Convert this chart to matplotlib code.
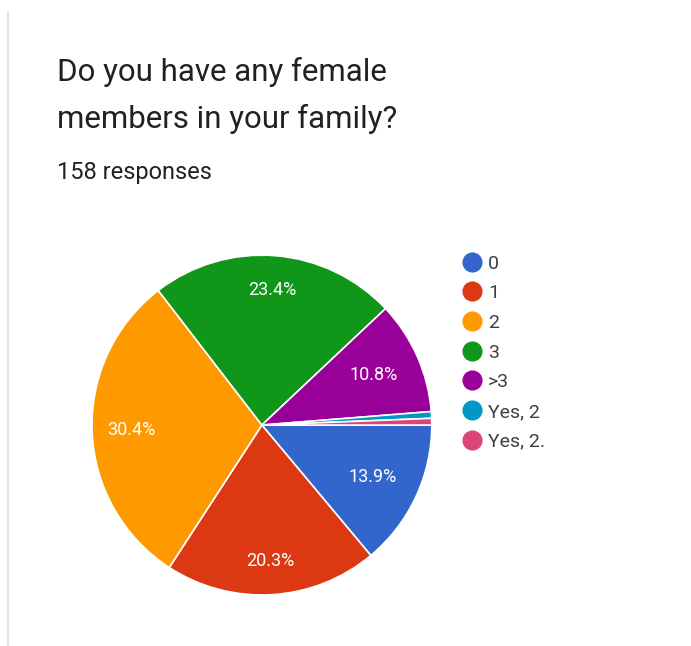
import numpy as np
import matplotlib.pyplot as plt
from matplotlib.lines import Line2D

plt.rcParams['font.family'] = ['Roboto', 'DejaVu Sans']

title = 'Do you have any female\nmembers in your family?'
subtitle = '158 responses'
answers = ['0', '1', '2', '3', '>3', 'Yes, 2', 'Yes, 2.']
counts = [22, 32, 48, 37, 17, 1, 1]
colors = ['#3366CC', '#DC3912', '#FF9900', '#109618', '#990099', '#0099C6', '#DD4477']


def pct_label(p):
    # small slices stay unlabeled
    return f'{p:.1f}%' if p >= 5 else ''


def main():
    fig = plt.figure(figsize=(6.91, 6.46), dpi=100)
    fig.patch.set_facecolor('white')

    # card border on the left
    fig.add_artist(Line2D([0.012, 0.012], [0.0, 0.982], color='#e2e2e2', lw=1.5))

    fig.text(0.082, 0.912, title, fontsize=22.5, color='#202124',
             va='top', ha='left', linespacing=1.7)
    fig.text(0.082, 0.751, subtitle, fontsize=17, color='#202124',
             va='top', ha='left')

    ax = fig.add_axes([0.133, 0.079, 0.492, 0.526])
    wedges, _, autotexts = ax.pie(
        counts, colors=colors, startangle=0, counterclock=False,
        autopct=pct_label, pctdistance=0.76,
        wedgeprops=dict(edgecolor='white', linewidth=1.2),
        textprops=dict(color='white', fontsize=13))

    # labels sit a bit further out on the vertical slices
    label_r = [0.72, 0.80, 0.77, 0.80, 0.72, 0.76, 0.76]
    for w, t, r in zip(wedges, autotexts, label_r):
        mid = np.deg2rad((w.theta1 + w.theta2) / 2)
        t.set_position((r * np.cos(mid), r * np.sin(mid)))

    ax.set_xlim(-1, 1)
    ax.set_ylim(-1, 1)
    ax.set_aspect('equal')

    handles = [Line2D([], [], marker='o', linestyle='none', markersize=13.5,
                      markerfacecolor=c, markeredgecolor=c) for c in colors]
    fig.legend(handles, answers, loc='upper left',
               bbox_to_anchor=(0.645, 0.633), frameon=False,
               fontsize=14, labelspacing=0.6, handlelength=0.9,
               handletextpad=0.37, labelcolor='#3c4043')

    fig.savefig('out.png', dpi=100, facecolor='white')


if __name__ == '__main__':
    main()
